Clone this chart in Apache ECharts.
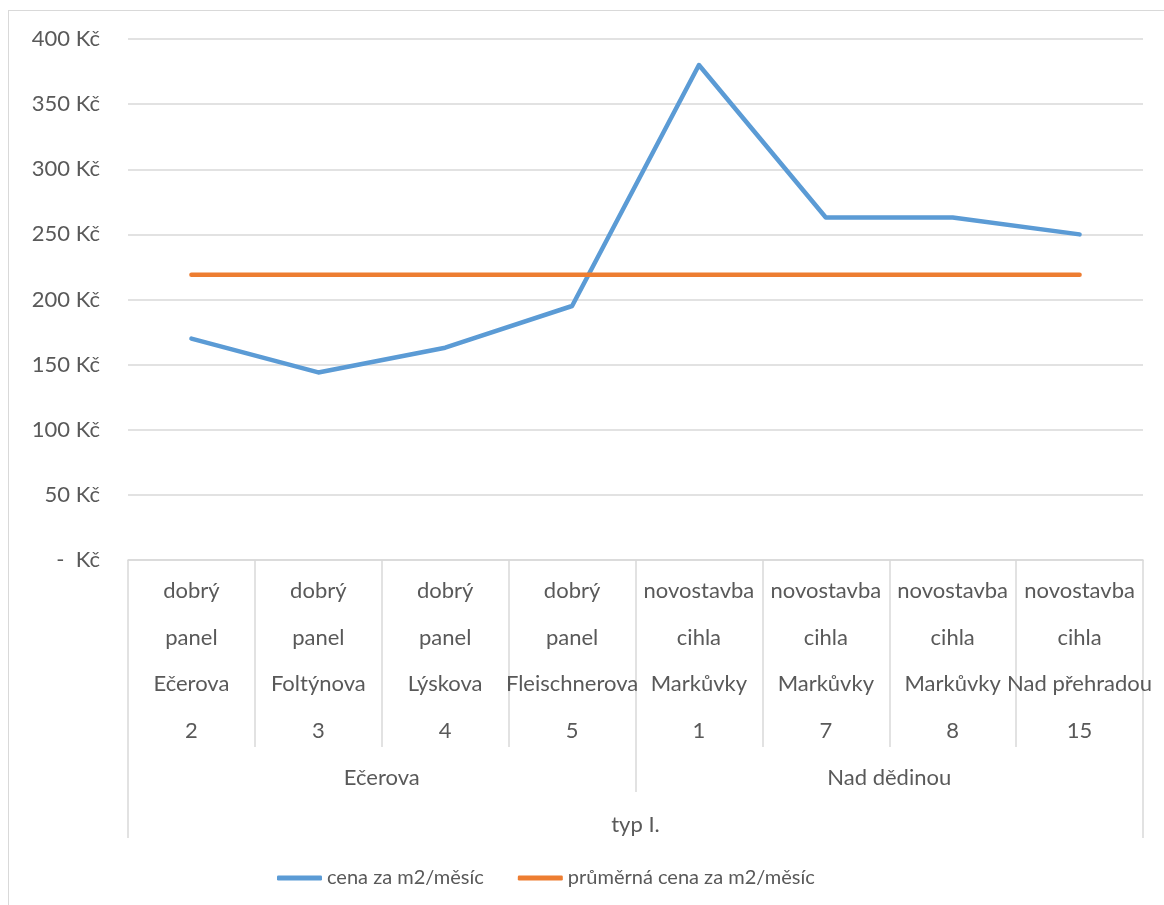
<!DOCTYPE html>
<html>
<head>
<meta charset="utf-8">
<script src="https://cdn.jsdelivr.net/npm/echarts@6/dist/echarts.min.js"></script>
<style>
    html, body { margin: 0; padding: 0; background: #fff; }
    #frame { position: absolute; left: 8px; top: 10px; width: 1200px; height: 1000px; border: 1px solid #d9d9d9; pointer-events: none; }
    #chart { position: absolute; left: 0; top: 0; width: 1164px; height: 905px; }
</style>
</head>
<body>
<div id="frame"></div>
<div id="chart"></div>
<script>
// úrovně kategorií (osa x)
const condition = ['dobrý', 'dobrý', 'dobrý', 'dobrý', 'novostavba', 'novostavba', 'novostavba', 'novostavba'];
const material = ['panel', 'panel', 'panel', 'panel', 'cihla', 'cihla', 'cihla', 'cihla'];
const street = ['Ečerova', 'Foltýnova', 'Lýskova', 'Fleischnerova', 'Markůvky', 'Markůvky', 'Markůvky', 'Nad přehradou'];
const houseNo = ['2', '3', '4', '5', '1', '7', '8', '15'];
const districts = ['Ečerova', 'Nad dědinou'];
const types = ['typ I.'];

// hodnoty
const prices = [170, 144, 163, 195, 380, 263, 263, 250];
const avgPrices = [219, 219, 219, 219, 219, 219, 219, 219];

const yTicks = { min: 0, max: 400, interval: 50 };

const labels = condition.map((c, i) => [c, material[i], street[i], houseNo[i]].join('\n'));

const FONT = 'Lato, "Open Sans", sans-serif';
const TXT = '#595959';
const GRID = '#d9d9d9';

const chart = echarts.init(document.getElementById('chart'));

function levelAxis(data, tickLen, margin, lineHeight) {
    return {
        type: 'category',
        position: 'bottom',
        data: data,
        axisLine: { show: false },
        axisTick: { show: true, interval: 0, length: tickLen, lineStyle: { color: GRID, width: 1.5 } },
        axisLabel: {
            interval: 0, margin: margin, color: TXT, fontFamily: FONT, fontSize: 22,
            lineHeight: lineHeight, hideOverlap: false
        },
        splitLine: { show: false }
    };
}

chart.setOption({
    animation: false,
    grid: { left: 128, right: 21, top: 39, bottom: 345, containLabel: false },
    xAxis: [
        Object.assign(levelAxis(labels, 187, 8, 46.5), {
            axisLine: { show: true, lineStyle: { color: GRID, width: 1.5 } }
        }),
        levelAxis(districts, 232, 207, 22),
        levelAxis(types, 278, 254, 22)
    ],
    yAxis: {
        type: 'value',
        min: yTicks.min,
        max: yTicks.max,
        interval: yTicks.interval,
        axisLine: { show: false },
        axisTick: { show: false },
        splitLine: { lineStyle: { color: GRID, width: 1.5 } },
        axisLabel: {
            margin: 28, color: TXT, fontFamily: FONT, fontSize: 22,
            formatter: v => v === 0 ? '-  Kč' : v + ' Kč'
        }
    },
    legend: {
        top: 863,
        left: 272,
        itemGap: 34,
        itemWidth: 45,
        itemHeight: 5,
        icon: 'roundRect',
        textStyle: { color: TXT, fontFamily: FONT, fontSize: 20 },
        data: ['cena za m2/měsíc', 'průměrná cena za m2/měsíc']
    },
    series: [
        {
            name: 'cena za m2/měsíc',
            type: 'line',
            xAxisIndex: 0,
            data: prices,
            symbol: 'none',
            color: '#5b9bd5',
            lineStyle: { width: 4.5, color: '#5b9bd5', cap: 'round', join: 'round' }
        },
        {
            name: 'průměrná cena za m2/měsíc',
            type: 'line',
            xAxisIndex: 0,
            data: avgPrices,
            symbol: 'none',
            color: '#ed7d31',
            lineStyle: { width: 4.5, color: '#ed7d31', cap: 'round', join: 'round' }
        }
    ]
});
</script>
</body>
</html>
